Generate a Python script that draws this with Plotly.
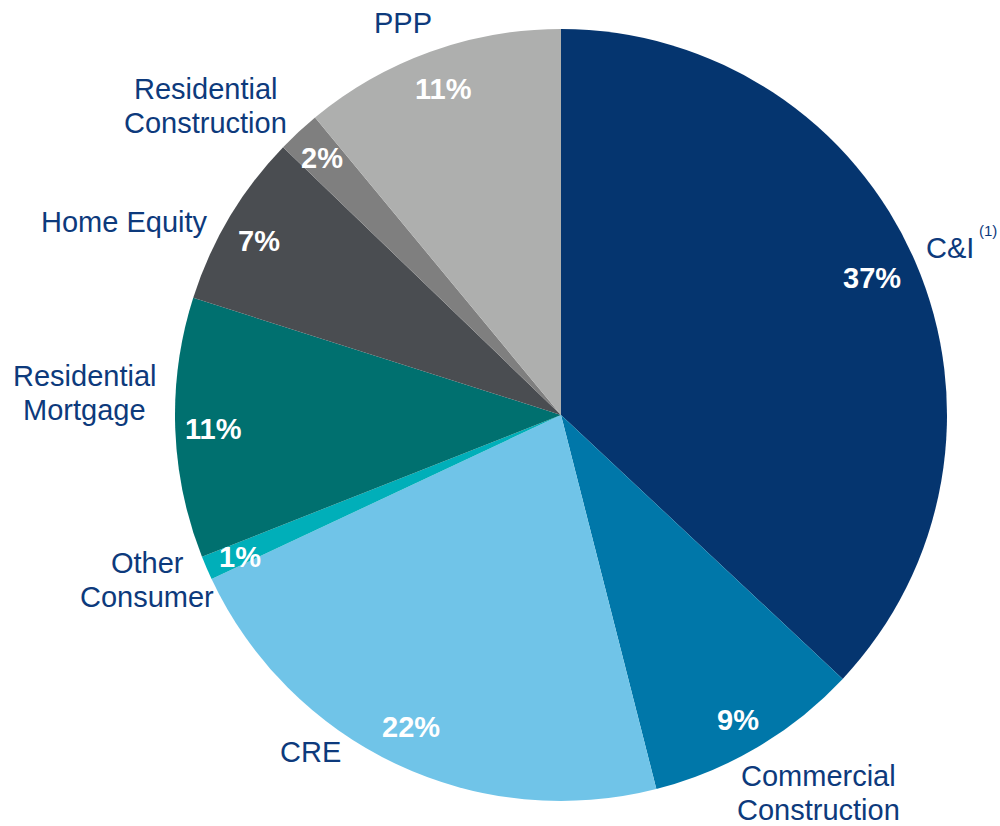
import math
import plotly.graph_objects as go

# ---- data ----
categories = ["C&I", "Commercial<br>Construction", "CRE", "Other<br>Consumer",
              "Residential<br>Mortgage", "Home Equity", "Residential<br>Construction", "PPP"]
shares = [37.0, 9.05, 22.0, 1.0, 10.9, 7.3, 1.8, 11.0]
slice_colors = ["#05356F", "#0077A9", "#70C4E8", "#00AFB9",
                "#00706F", "#4A4D51", "#7F7F7F", "#AEAFAE"]

# ---- layout settings ----
W, H = 1000, 826
CX, CY, R = 561, 415, 386            # pie centre / radius in pixels
TEXT_COLOR = "#0D3A7C"
FONT = "Arial, Liberation Sans, sans-serif"
LABEL_SIZE = 29
PCT_SIZE = 29
LINE_GAP = 34
# category label centre positions (pixels)
label_pos = [(950, 248), (818, 793), (310, 752), (147, 580),
             (84, 393), (124, 222), (205, 106), (403, 23)]
# small nudges of the percentage labels (pixels)
pct_nudge = [(-8, 1), (0, 6), (-2, -2), (-2, 4), (0, 2), (-4, 4), (-3, -2), (0, 1)]

fig = go.Figure(go.Pie(
    labels=categories,
    values=shares,
    sort=False,
    direction="clockwise",
    rotation=0,
    marker=dict(colors=slice_colors, line=dict(width=0)),
    textinfo="none",
    hoverinfo="label+percent",
    showlegend=False,
    domain=dict(x=[(CX - R) / W, (CX + R) / W],
                y=[1 - (CY + R) / H, 1 - (CY - R) / H]),
))

def px(x):
    return x / W

def py(y):
    return 1 - y / H

annotations = []
# percentage labels, placed at 0.9 R on each slice's mid-angle
total = sum(shares)
cum = 0.0
for v, (nx, ny) in zip(shares, pct_nudge):
    mid = (cum + v / 2) / total * 2 * math.pi
    cum += v
    x = CX + 0.9 * R * math.sin(mid) + nx
    y = CY - 0.9 * R * math.cos(mid) + ny
    annotations.append(dict(
        x=px(x), y=py(y), xref="paper", yref="paper",
        text=f"<b>{round(v / total * 100):.0f}%</b>", showarrow=False,
        font=dict(family=FONT, size=PCT_SIZE, color="white"),
        xanchor="center", yanchor="middle"))

# category labels, one annotation per line
for name, (x, y) in zip(categories, label_pos):
    lines = name.split("<br>")
    n = len(lines)
    for i, line in enumerate(lines):
        ly = y + (i - (n - 1) / 2) * LINE_GAP
        annotations.append(dict(
            x=px(x), y=py(ly), xref="paper", yref="paper",
            text=line, showarrow=False,
            font=dict(family=FONT, size=LABEL_SIZE, color=TEXT_COLOR),
            xanchor="center", yanchor="middle"))

# footnote marker on C&I
annotations.append(dict(
    x=px(988), y=py(231), xref="paper", yref="paper", text="(1)",
    showarrow=False, font=dict(family=FONT, size=15, color=TEXT_COLOR),
    xanchor="center", yanchor="middle"))

fig.update_layout(
    width=W, height=H,
    margin=dict(l=0, r=0, t=0, b=0),
    paper_bgcolor="white",
    plot_bgcolor="white",
    annotations=annotations,
)

fig.write_html(
    "out.html",
    config={"displayModeBar": False},
    post_script="document.body.style.margin='0';document.body.style.overflow='hidden';",
)
